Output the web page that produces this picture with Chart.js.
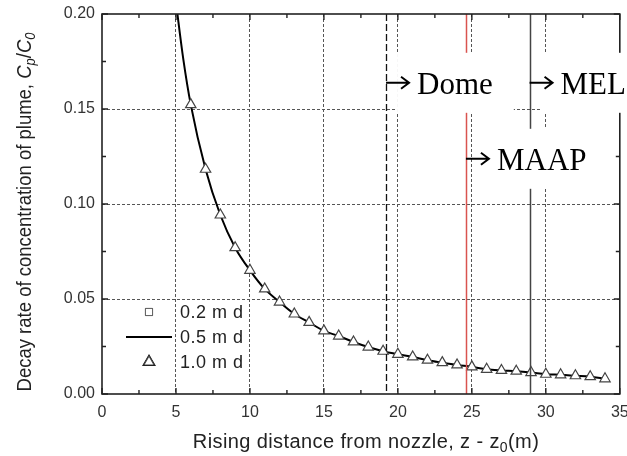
<!DOCTYPE html>
<html>
<head>
<meta charset="utf-8">
<script src="https://cdn.jsdelivr.net/npm/chart.js@4.4.0/dist/chart.umd.min.js"></script>
<style>
  html, body { margin: 0; padding: 0; background: #fff; }
</style>
</head>
<body>
<canvas id="plume" width="627" height="456"></canvas>
<script>
// values
const triDist = [6, 7, 8, 9, 10, 11, 12, 13, 14, 15, 16, 17, 18, 19, 20, 21, 22, 23, 24, 25, 26, 27, 28, 29, 30, 31, 32, 33, 34];
const triRatio = [0.1523, 0.1183, 0.0942, 0.0770, 0.0651, 0.0553, 0.0484, 0.0421, 0.0377, 0.0332, 0.0305, 0.0274, 0.0247, 0.0225, 0.0209, 0.0195, 0.0178, 0.0165, 0.0153, 0.0143, 0.0130, 0.0124, 0.0120, 0.0113, 0.0104, 0.0101, 0.0096, 0.0091, 0.0080];
const curveDist = [5, 5.5, 6, 7, 8, 9, 10, 11, 12, 13, 14, 15, 16, 17, 18, 19, 20, 21, 22, 23, 24, 25, 26, 27, 28, 29, 30, 31, 32, 33, 34];
const curveRatio = [0.206, 0.176, 0.1523, 0.1183, 0.0942, 0.0770, 0.0651, 0.0553, 0.0484, 0.0421, 0.0377, 0.0332, 0.0305, 0.0274, 0.0247, 0.0225, 0.0209, 0.0195, 0.0178, 0.0165, 0.0153, 0.0143, 0.0130, 0.0124, 0.0120, 0.0113, 0.0104, 0.0101, 0.0096, 0.0091, 0.0080];
const seriesNames = ['0.2 m d', '0.5 m d', '1.0 m d'];
const xTicks = [0, 5, 10, 15, 20, 25, 30, 35];
const yTicks = [0, 0.05, 0.10, 0.15, 0.20];
const markerDist = [19.2, 24.6, 28.9];
const markerName = ['Dome', 'MAAP', 'MEL'];
const markerLabelY = [0.158, 0.118, 0.158];

const SANS = '"Liberation Sans", Arial, sans-serif';
const SERIF = '"Liberation Serif", "Times New Roman", serif';
const markerStyle = [
    { color: '#111', width: 1.3, dash: [7, 3] },
    { color: '#d9534f', width: 1.5, dash: [] },
    { color: '#444', width: 1.5, dash: [] }
];

const toPoints = (xs, ys) => xs.map((x, i) => ({ x, y: ys[i] }));

// helper: draws a run of text pieces centred on (0,0) of the current transform
function drawRich(ctx, parts) {
    let total = 0;
    parts.forEach(p => { ctx.font = p.font; p.w = ctx.measureText(p.t).width; total += p.w; });
    let x = -total / 2;
    parts.forEach(p => {
        ctx.font = p.font;
        ctx.fillText(p.t, x, p.dy || 0);
        x += p.w;
    });
}

const decor = {
    id: 'decor',
    beforeDraw(chart) {
        const ctx = chart.ctx;
        ctx.save();
        ctx.fillStyle = '#fff';
        ctx.fillRect(0, 0, chart.width, chart.height);
        ctx.restore();
    },
    afterDraw(chart) {
        const ctx = chart.ctx;
        const xs = chart.scales.x, ys = chart.scales.y;
        const a = chart.chartArea;

        // marker lines
        markerDist.forEach((d, i) => {
            const px = Math.round(xs.getPixelForValue(d)) + 0.5;
            const st = markerStyle[i];
            ctx.save();
            ctx.strokeStyle = st.color;
            ctx.lineWidth = st.width;
            ctx.setLineDash(st.dash);
            ctx.beginPath();
            ctx.moveTo(px, a.top);
            ctx.lineTo(px, a.bottom);
            ctx.stroke();
            ctx.restore();
        });

        // frame + inward ticks
        ctx.save();
        ctx.strokeStyle = '#222';
        ctx.lineWidth = 1.6;
        ctx.strokeRect(a.left, a.top, a.right - a.left, a.bottom - a.top);
        ctx.lineWidth = 1.4;
        ctx.beginPath();
        for (let v = 0; v <= 35.001; v += 2.5) {
            const len = Math.abs(v % 5) < 0.01 ? 6 : 4;
            const px = xs.getPixelForValue(v);
            ctx.moveTo(px, a.bottom); ctx.lineTo(px, a.bottom - len);
            ctx.moveTo(px, a.top); ctx.lineTo(px, a.top + len);
        }
        for (let k = 0; k <= 8; k++) {
            const len = k % 2 === 0 ? 6 : 4;
            const py = ys.getPixelForValue(k * 0.025);
            ctx.moveTo(a.left, py); ctx.lineTo(a.left + len, py);
            ctx.moveTo(a.right, py); ctx.lineTo(a.right - len, py);
        }
        ctx.stroke();
        ctx.restore();

        // marker labels: white box, arrow, name
        ctx.save();
        ctx.font = '31px ' + SERIF;
        ctx.textBaseline = 'alphabetic';
        const boxes = markerDist.map((d, i) => {
            const lx = xs.getPixelForValue(d);
            const base = ys.getPixelForValue(markerLabelY[i]);
            const tx = lx + 31;
            const w = ctx.measureText(markerName[i]).width;
            return { lx, base, tx, w };
        });
        ctx.fillStyle = '#fff';
        boxes.forEach(b => ctx.fillRect(b.tx - 20, b.base - 41, b.w + 41, 60));
        ctx.fillStyle = '#000';
        ctx.strokeStyle = '#000';
        ctx.lineWidth = 2;
        boxes.forEach((b, i) => {
            const ay = b.base - 11;
            ctx.beginPath();
            ctx.moveTo(b.lx, ay); ctx.lineTo(b.lx + 23, ay);
            ctx.moveTo(b.lx + 15, ay - 6); ctx.lineTo(b.lx + 23, ay); ctx.lineTo(b.lx + 15, ay + 6);
            ctx.stroke();
            ctx.fillText(markerName[i], b.tx, b.base);
        });
        ctx.restore();

        // legend inside the plot
        ctx.save();
        const ds = chart.data.datasets;
        const legX = 149, legY = [312, 337, 362];
        ctx.font = '18px ' + SANS;
        ctx.letterSpacing = '0.5px';
        ctx.fillStyle = '#222';
        ctx.textBaseline = 'middle';
        seriesNames.forEach((name, i) => {
            const set = ds.find(s => s.label === name);
            const y = legY[i];
            if (set.showLine) {
                ctx.strokeStyle = set.borderColor;
                ctx.lineWidth = set.borderWidth;
                ctx.beginPath(); ctx.moveTo(126, y); ctx.lineTo(172, y); ctx.stroke();
            } else {
                Chart.helpers.drawPoint(ctx, {
                    pointStyle: set.pointStyle,
                    radius: set.legendRadius,
                    borderWidth: set.pointBorderWidth,
                    rotation: 0
                }, legX, y);
                ctx.fillStyle = '#fff';
                ctx.strokeStyle = set.pointBorderColor;
                ctx.lineWidth = set.pointBorderWidth;
                ctx.fill(); ctx.stroke();
                ctx.fillStyle = '#222';
            }
            ctx.fillText(name, 180, y + 1);
        });
        ctx.restore();

        // axis titles
        ctx.save();
        ctx.fillStyle = '#222';
        ctx.textBaseline = 'middle';
        ctx.letterSpacing = '0.4px';
        const xt = '20px ' + SANS;
        ctx.translate(366, 442);
        drawRich(ctx, [
            { t: 'Rising distance from nozzle, z - z', font: xt },
            { t: '0', font: '14px ' + SANS, dy: 6 },
            { t: '(m)', font: xt }
        ]);
        ctx.restore();

        ctx.save();
        ctx.fillStyle = '#222';
        ctx.textBaseline = 'middle';
        const reg = '18.5px ' + SANS, ital = 'italic 18.5px ' + SANS, sub = 'italic 13px ' + SANS;
        ctx.translate(25, 212);
        ctx.rotate(-Math.PI / 2);
        ctx.scale(1, 1.12);
        drawRich(ctx, [
            { t: 'Decay rate of concentration of plume, ', font: reg },
            { t: 'C', font: ital },
            { t: 'p', font: sub, dy: 5 },
            { t: '/', font: reg },
            { t: 'C', font: ital },
            { t: '0', font: sub, dy: 5 }
        ]);
        ctx.restore();
    }
};

const gridColor = (ctx) => {
    const v = ctx.tick && ctx.tick.value;
    const s = ctx.scale;
    if (v === undefined || Math.abs(v - s.min) < 1e-9 || Math.abs(v - s.max) < 1e-9) return 'rgba(0,0,0,0)';
    return '#555';
};

new Chart(document.getElementById('plume'), {
    type: 'scatter',
    data: {
        datasets: [
            {
                label: seriesNames[2],
                data: toPoints(triDist, triRatio),
                showLine: false,
                pointStyle: 'triangle',
                pointRadius: 6,
                legendRadius: 6,
                pointBackgroundColor: '#fff',
                pointBorderColor: '#444',
                pointBorderWidth: 1.2,
                order: 0
            },
            {
                label: seriesNames[1],
                data: toPoints(curveDist, curveRatio),
                showLine: true,
                borderColor: '#000',
                borderWidth: 2,
                pointRadius: 0,
                cubicInterpolationMode: 'monotone',
                order: 1
            },
            {
                label: seriesNames[0],
                data: toPoints(triDist, triRatio),
                showLine: false,
                pointStyle: 'rect',
                pointRadius: 2.5,
                legendRadius: 5,
                pointBackgroundColor: '#fff',
                pointBorderColor: '#666',
                pointBorderWidth: 1,
                order: 2
            }
        ]
    },
    options: {
        responsive: false,
        animation: false,
        devicePixelRatio: 1,
        layout: { padding: { top: 14, right: 7, left: 0, bottom: 0 } },
        plugins: { legend: { display: false }, tooltip: { enabled: false } },
        scales: {
            x: {
                type: 'linear',
                min: 0, max: 35,
                afterBuildTicks: (s) => { s.ticks = xTicks.map(v => ({ value: v })); },
                afterFit: (s) => { s.height = 62; s.paddingLeft = 0; s.paddingRight = 0; },
                grid: { color: gridColor, lineWidth: 1, drawTicks: false },
                border: { display: false, dash: [3, 2] },
                ticks: { padding: 9, color: '#333', font: { family: SANS, size: 16 } }
            },
            y: {
                min: 0, max: 0.2,
                afterBuildTicks: (s) => { s.ticks = yTicks.map(v => ({ value: v })); },
                afterFit: (s) => { s.width = 102; s.paddingTop = 0; s.paddingBottom = 0; },
                grid: { color: gridColor, lineWidth: 1, drawTicks: false },
                border: { display: false, dash: [3, 2] },
                ticks: {
                    padding: 7, color: '#333', font: { family: SANS, size: 16 },
                    callback: (v) => v.toFixed(2)
                }
            }
        }
    },
    plugins: [decor]
});
</script>
</body>
</html>
